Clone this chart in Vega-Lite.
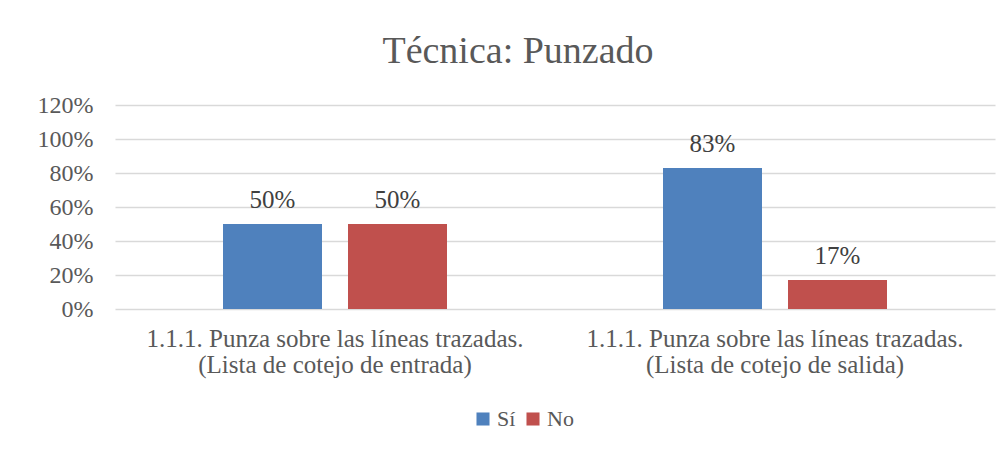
{
  "$schema": "https://vega.github.io/schema/vega-lite/v6.json",
  "width": 880,
  "height": 204,
  "autosize": {"type": "none"},
  "padding": {"left": 115, "top": 105, "right": 7, "bottom": 144},
  "background": "white",
  "config": {
    "view": {"stroke": null},
    "font": "Liberation Serif"
  },
  "title": {
    "text": "Técnica: Punzado",
    "fontSize": 38,
    "fontWeight": "normal",
    "color": "#595959",
    "font": "Liberation Serif",
    "anchor": "middle",
    "dx": -37,
    "offset": 22
  },
  "data": {
    "values": [
      {"item": "1.1.1. Punza sobre las líneas trazadas.|(Lista de cotejo de entrada)", "resp": "Sí", "value": 0.5},
      {"item": "1.1.1. Punza sobre las líneas trazadas.|(Lista de cotejo de entrada)", "resp": "No", "value": 0.5},
      {"item": "1.1.1. Punza sobre las líneas trazadas.|(Lista de cotejo de salida)", "resp": "Sí", "value": 0.83},
      {"item": "1.1.1. Punza sobre las líneas trazadas.|(Lista de cotejo de salida)", "resp": "No", "value": 0.17}
    ]
  },
  "encoding": {
    "x": {
      "field": "item",
      "type": "nominal",
      "sort": null,
      "scale": {"paddingInner": 0, "paddingOuter": 0},
      "axis": {
        "title": null,
        "labelAngle": 0,
        "labelExpr": "split(datum.label, '|')",
        "labelFontSize": 25,
        "labelColor": "#595959",
        "labelLineHeight": 26,
        "labelPadding": 17,
        "labelLimit": 0,
        "domain": false,
        "ticks": false,
        "labelFont": "Liberation Serif"
      }
    },
    "xOffset": {
      "field": "resp",
      "type": "nominal",
      "sort": ["Sí", "No"],
      "scale": {"paddingInner": 0.208, "paddingOuter": 0.864}
    },
    "y": {
      "field": "value",
      "type": "quantitative",
      "scale": {"domain": [0, 1.2]},
      "axis": {
        "title": null,
        "format": ".0%",
        "values": [0, 0.2, 0.4, 0.6, 0.8, 1.0, 1.2],
        "labelFontSize": 24,
        "labelColor": "#595959",
        "labelPadding": 22,
        "domain": false,
        "ticks": false,
        "gridColor": "#D9D9D9",
        "gridWidth": 1.5,
        "labelFont": "Liberation Serif"
      }
    }
  },
  "layer": [
    {
      "mark": {"type": "bar"},
      "encoding": {
        "color": {
          "field": "resp",
          "type": "nominal",
          "sort": ["Sí", "No"],
          "scale": {"domain": ["Sí", "No"], "range": ["#4F81BD", "#C0504D"]},
          "legend": {
            "title": null,
            "orient": "none",
            "direction": "horizontal",
            "legendX": 357,
            "legendY": 303,
            "symbolType": "square",
            "symbolSize": 170,
            "labelFontSize": 22,
            "labelColor": "#595959",
            "labelFont": "Liberation Serif",
            "columnPadding": 6,
            "labelOffset": 3
          }
        }
      }
    },
    {
      "mark": {"type": "text", "baseline": "bottom", "dy": -11, "fontSize": 25, "color": "#404040", "font": "Liberation Serif"},
      "encoding": {
        "text": {"field": "value", "type": "quantitative", "format": ".0%"}
      }
    }
  ]
}
